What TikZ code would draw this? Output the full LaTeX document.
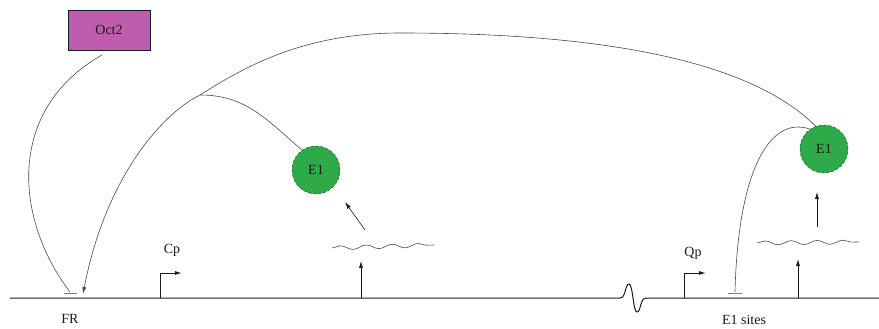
\documentclass[tikz,border=0pt]{standalone}
\usepackage{fontspec}
\setmainfont{Liberation Serif}
\usepackage{xcolor}
\usetikzlibrary{arrows.meta,positioning,calc,decorations.pathmorphing}
\definecolor{cInk}{HTML}{1A1A1A}
\definecolor{cLine}{HTML}{4A4A4A}
\definecolor{cGreen}{HTML}{2FAA48}
\definecolor{cMagenta}{HTML}{BF5CAE}
\tikzset{
  lbl/.style={font=\fontsize{14}{16}\selectfont,text=cInk,inner sep=1pt},
  ebox/.style={circle,draw=cGreen!40!black,densely dashed,fill=cGreen,minimum size=48pt,inner sep=0pt,font=\fontsize{14}{16}\selectfont,text=cInk},
  obox/.style={draw=cInk,fill=cMagenta,line width=0.6pt,minimum width=82pt,minimum height=40pt,inner sep=0pt,font=\fontsize{14}{16}\selectfont,text=cInk},
  arr/.style={-{Latex[length=7pt,width=4pt]},line width=0.6pt,color=cInk},
  curv/.style={line width=0.6pt,color=cLine},
  bar/.style={line width=1pt,color=cLine!70},
  wav/.style={line width=0.6pt,color=cLine,decorate,decoration={snake,amplitude=2pt,segment length=26pt}},
}

\begin{document}
\begin{tikzpicture}[x=1pt,y=-1pt]
  \useasboundingbox (0,0) rectangle (879,329);
  % dna
  \coordinate (dnaL) at (10,298);
  \coordinate (brkL) at (620,298);
  \coordinate (brkR) at (646,298);
  \coordinate (dnaR) at (879,298);
  \draw[line width=1pt,cInk] (dnaL) -- (brkL)
    .. controls (626,298) and (625,284) .. (629,284)
    .. controls (633,284) and (633,312) .. (637,312)
    .. controls (641,312) and (640,298) .. (brkR) -- (dnaR);
  % promoters
  \coordinate (cp) at (160,298);
  \coordinate (qp) at (684,298);
  \draw[arr,line width=1pt] (cp) |- ++(22,-25);
  \draw[arr,line width=1pt] (qp) |- ++(22,-25);
  \node[lbl] (cplbl) at (172,250) {Cp};
  \node[lbl] (qplbl) at (693,253) {Qp};
  \node[lbl] (frlbl) at (70,319) {FR};
  \node[lbl] (eslbl) at (744,320) {E1 sites};
  % proteins
  \node[obox] (oct) at (109,30) {Oct2};
  \node[ebox] (e1a) at (316,170) {E1};
  \node[ebox] (e1b) at (824,149) {E1};
  % oct2 block on FR
  \coordinate (frbar) at (70,292);
  \draw[curv] (102,55) .. controls (5,110) and (15,220) .. (frbar);
  \draw[bar] (frbar) ++(-6,1.5) -- ++(13,0);
  % E1 back to FR
  \coordinate (join) at (200,95);
  \coordinate (top) at (400,33);
  \coordinate (frhit) at (83,294);
  \draw[arr,color=cLine] (e1b.110) .. controls (740,50) and (560,33) .. (top)
    .. controls (300,33) and (240,70) .. (join)
    .. controls (160,115) and (105,180) .. (frhit);
  \draw[curv] (e1a.125) .. controls (265,118) and (245,95) .. (join);
  % E1 block on its sites
  \coordinate (esbar) at (735,292);
  \draw[curv] (e1b.125) .. controls (770,115) and (738,170) .. (esbar);
  \draw[bar] (esbar) ++(-7,1.5) -- ++(14,0);
  % transcripts
  \coordinate (mA1) at (332,248);
  \coordinate (mA2) at (434,245);
  \coordinate (mB1) at (757,243);
  \coordinate (mB2) at (859,242);
  \draw[wav] (mA1) -- (mA2);
  \draw[wav] (mB1) -- (mB2);
  \draw[arr] (361,298) -- (361,261);
  \draw[arr] (798,298) -- (798,259);
  \draw[arr] (365,230) -- (345,202);
  \draw[arr] (817,227) -- (817,192);
\end{tikzpicture}
\end{document}
